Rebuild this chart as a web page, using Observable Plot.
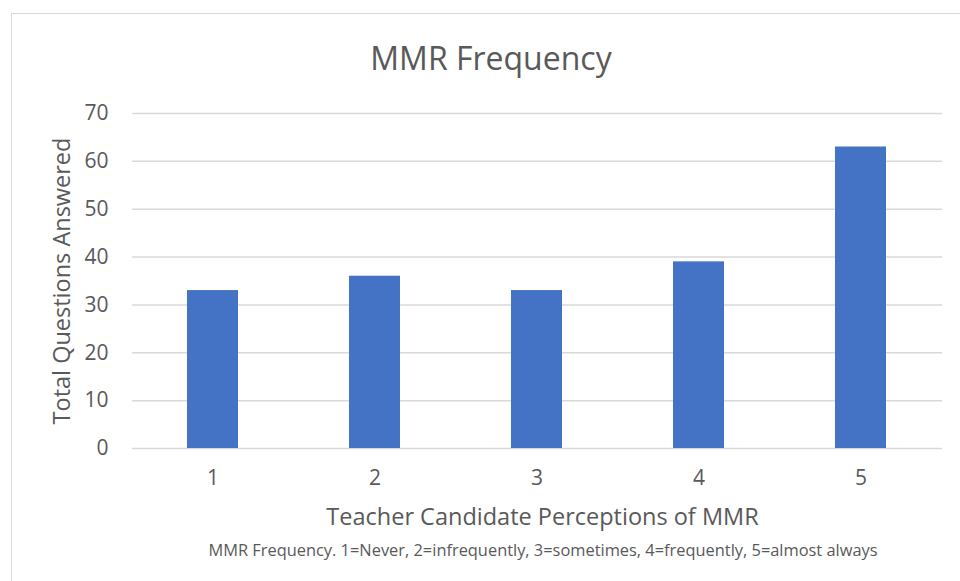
<!DOCTYPE html>
<html>
<head>
<meta charset="utf-8">
<script src="https://cdn.jsdelivr.net/npm/d3@7"></script>
<script src="https://cdn.jsdelivr.net/npm/@observablehq/plot@0.6"></script>
<style>
  html, body { margin: 0; padding: 0; background: #fff; }
  body { width: 960px; height: 581px; position: relative; overflow: hidden; font-family: "Open Sans", sans-serif; color: #595959; }
  #frame { position: absolute; left: 11px; top: 13px; width: 1000px; height: 600px; border: 1px solid #d9d9d9; box-sizing: border-box; }
  #title { position: absolute; left: 0; top: 35px; width: 982px; text-align: center; font-size: 32px; line-height: 46px; }
  #chart { position: absolute; left: 0; top: 90px; }
  #caption { position: absolute; left: 0; top: 538px; width: 1086px; text-align: center; font-size: 16.4px; line-height: 24px; }
</style>
</head>
<body>
<div id="frame"></div>
<div id="title">MMR Frequency</div>
<div id="chart"></div>
<div id="caption">MMR Frequency. 1=Never, 2=infrequently, 3=sometimes, 4=frequently, 5=almost always</div>
<script>
const categories = ["1", "2", "3", "4", "5"];
const values = [33, 36, 33, 39, 63];
const yTicks = [0, 10, 20, 30, 40, 50, 60, 70];
const xLabel = "Teacher Candidate Perceptions of MMR";
const yLabel = "Total Questions Answered";

const data = categories.map((c, i) => ({category: c, value: values[i]}));

const chart = Plot.plot({
  width: 960,
  height: 460,
  marginLeft: 132,
  marginRight: 18,
  marginTop: 23,
  marginBottom: 102,
  style: {fontFamily: "Open Sans, sans-serif", fontSize: "21px", color: "#595959", background: "transparent"},
  x: {domain: categories, paddingInner: 0.685, paddingOuter: 0.3425, align: 0.5},
  y: {domain: [0, 70], ticks: yTicks},
  marks: [
    Plot.gridY(yTicks, {stroke: "#d9d9d9", strokeOpacity: 1, strokeWidth: 1.5}),
    Plot.barY(data, {x: "category", y: "value", fill: "#4472c4"}),
    Plot.axisX({tickSize: 0, tickPadding: 22, fontSize: 21, label: null}),
    Plot.axisY(yTicks, {tickSize: 0, tickPadding: 24, fontSize: 21, label: null}),
    Plot.text([xLabel], {frameAnchor: "bottom", dy: 76, dx: 5, fontSize: 23.5, fill: "#595959"}),
    Plot.text([yLabel], {frameAnchor: "left", dx: -70, rotate: -90, textAnchor: "middle", fontSize: 23.5, fill: "#595959"})
  ]
});
document.getElementById("chart").appendChild(chart);
</script>
</body>
</html>
